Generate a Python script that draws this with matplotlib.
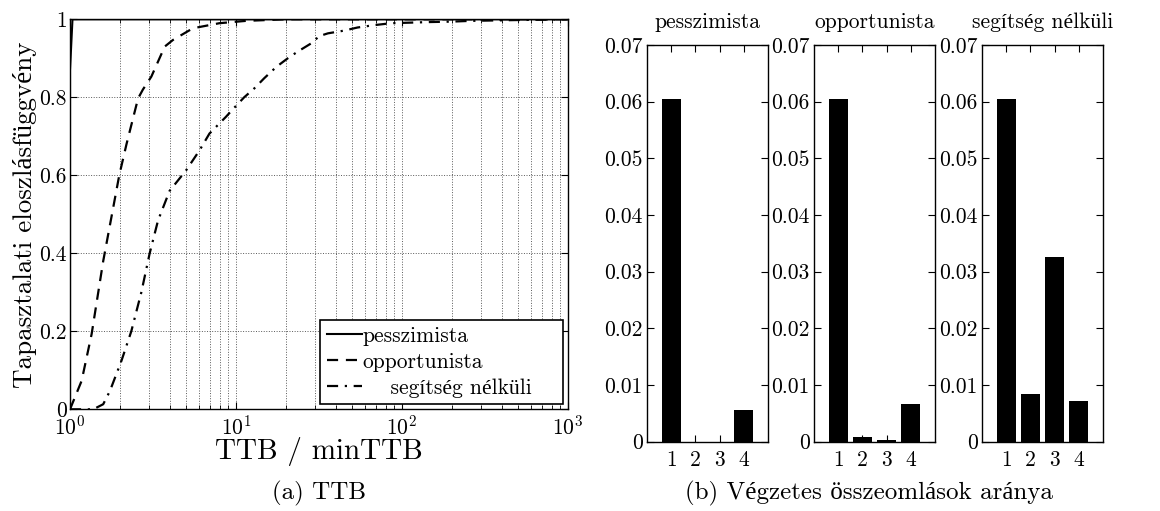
import numpy as np
import matplotlib
matplotlib.use('Agg')
import matplotlib.pyplot as plt
from matplotlib.ticker import LogLocator, NullFormatter

plt.rcParams['font.family'] = ['cmr10', 'Liberation Serif']
plt.rcParams['mathtext.fontset'] = 'cm'
plt.rcParams['axes.unicode_minus'] = False

pes_x = [1.0, 1.0, 1.035, 1000]
pes_y = [0.0, 0.87, 1.0, 1.0]

opp_x = [1.0, 1.175, 1.35, 1.585, 1.98, 2.19, 2.57, 2.75, 3.09, 3.72, 4.17, 5.5, 7.94, 11.5, 20, 1000]
opp_y = [0.0, 0.073, 0.193, 0.38, 0.6, 0.68, 0.797, 0.82, 0.853, 0.93, 0.947, 0.977, 0.99, 0.996, 1.0, 1.0]

seg_x = [1.0, 1.38, 1.585, 1.74, 2.04, 2.34, 2.69, 3.02, 3.39, 3.98, 5.01, 6.03, 6.92, 8.7, 9.7,
         11.2, 12.9, 14.8, 17.5, 20.5, 23.5, 28.3, 31.8, 35.8, 44.8, 54, 68, 86, 103, 149, 197, 260, 480, 1000]
seg_y = [0.0, 0.0, 0.013, 0.047, 0.124, 0.2, 0.30, 0.4, 0.484, 0.56, 0.613, 0.664, 0.707, 0.75, 0.772,
         0.80, 0.823, 0.849, 0.878, 0.90, 0.917, 0.938, 0.957, 0.964, 0.971, 0.979, 0.985, 0.99, 0.991,
         0.993, 0.994, 0.996, 0.998, 1.0]

legend_labels = ['pesszimista', 'opportunista', '    segítség nélküli']

# fatal collapse ratios
bar_cats = [1, 2, 3, 4]
bar_titles = ['pesszimista', 'opportunista', 'segítség nélküli']
bar_pes = [0.0605, 0.0, 0.0, 0.00565]
bar_opp = [0.0605, 0.00088, 0.0003, 0.0067]
bar_seg = [0.0605, 0.0084, 0.0326, 0.0072]
bar_yticks = [0, 0.01, 0.02, 0.03, 0.04, 0.05, 0.06, 0.07]
bar_yticklabels = ['0', '0.01', '0.02', '0.03', '0.04', '0.05', '0.06', '0.07']

fig = plt.figure(figsize=(11.6, 5.11), dpi=100)
W, H = 1160.0, 511.0

def px_axes(l, t, r, b):
    return fig.add_axes([l / W, 1 - b / H, (r - l) / W, (b - t) / H])

fs_tick = 15.5

# --- left panel ---
ax = px_axes(70, 19.3, 568, 409.3)
ax.plot(pes_x, pes_y, color='k', lw=1.5, ls='-', label=legend_labels[0])
ax.plot(opp_x, opp_y, color='k', lw=1.6, ls=(0, (5, 3.5)), label=legend_labels[1])
ax.plot(seg_x, seg_y, color='k', lw=1.6, ls=(0, (5, 3, 1, 3)), label=legend_labels[2])
ax.set_xscale('log')
ax.set_xlim(1, 1000)
ax.set_ylim(0, 1)
ax.set_yticks([0, 0.2, 0.4, 0.6, 0.8, 1.0])
ax.set_yticklabels(['0', '0.2', '0.4', '0.6', '0.8', '1'])
ax.xaxis.set_minor_locator(LogLocator(base=10, subs=np.arange(2, 10)))
ax.xaxis.set_minor_formatter(NullFormatter())
ax.grid(True, which='both', axis='x', ls=':', lw=0.7, color='0.35')
ax.grid(True, which='major', axis='y', ls=':', lw=0.7, color='0.35')
ax.tick_params(which='both', direction='in', top=True, right=True, labelsize=fs_tick)
ax.tick_params(axis='y', pad=2.5)
ax.tick_params(axis='x', pad=4)
ax.tick_params(which='major', length=5)
ax.tick_params(which='minor', length=3)
for s in ax.spines.values():
    s.set_linewidth(1.0)
ax.set_xlabel('TTB / minTTB', fontsize=21)
ax.xaxis.set_label_coords(0.5, -0.07)
ax.set_ylabel('Tapasztalati eloszlásfüggvény', fontsize=19.5)
ax.yaxis.set_label_coords(-0.066, 0.5)
leg = ax.legend(loc='lower left', bbox_to_anchor=(0.503, 0.0136, 0.487, 0.205), mode='expand',
                fontsize=15.5, handlelength=1.65, handletextpad=0.0, borderpad=0.3,
                labelspacing=0.3, borderaxespad=0, fancybox=False, framealpha=1)
leg.get_frame().set_edgecolor('k')
leg.get_frame().set_linewidth(1.2)

fig.text(318.5 / W, 1 - 493 / H, '(a) TTB', ha='center', va='center', fontsize=18)

# --- right panels ---
lefts = [647, 814, 982]
for left, vals, title in zip(lefts, [bar_pes, bar_opp, bar_seg], bar_titles):
    bx = px_axes(left, 45, left + 121, 441.7)
    bx.bar(bar_cats, vals, width=0.8, color='k')
    bx.set_xlim(0, 5)
    bx.set_ylim(0, 0.07)
    bx.set_xticks(bar_cats)
    bx.set_yticks(bar_yticks)
    bx.set_yticklabels(bar_yticklabels)
    bx.tick_params(direction='in', top=True, right=True, length=5, labelsize=fs_tick)
    bx.tick_params(axis='y', pad=3)
    bx.tick_params(axis='x', pad=6)
    for s in bx.spines.values():
        s.set_linewidth(1.0)
    bx.set_title(title, fontsize=15.5, pad=12)

fig.text(869 / W, 1 - 493 / H, '(b) Végzetes összeomlások aránya', ha='center', va='center', fontsize=18)

fig.savefig('out.png', dpi=100)
